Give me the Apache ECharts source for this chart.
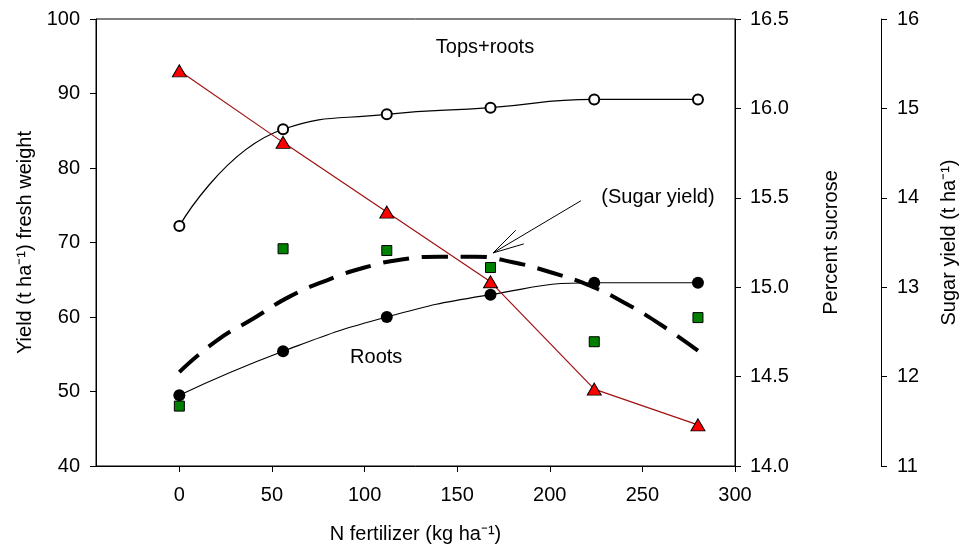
<!DOCTYPE html>
<html>
<head>
<meta charset="utf-8">
<script src="https://cdn.jsdelivr.net/npm/echarts@6/dist/echarts.min.js"></script>
<style>
  html, body { margin: 0; padding: 0; background: #fff; }
  #chart { width: 962px; height: 547px; }
</style>
</head>
<body>
<div id="chart"></div>
<script>
// N fertilizer rates (kg/ha)
const nRate = [0, 56, 112, 168, 224, 280];
// yield, t/ha fresh weight (left axis)
const topsRoots = [72.2, 85.2, 87.2, 88.1, 89.2, 89.2];
const roots = [49.5, 55.4, 60.0, 63.0, 64.6, 64.6];
// percent sucrose (first right axis)
const sucrose = [16.21, 15.81, 15.42, 15.03, 14.43, 14.23];
// sugar yield, t/ha (second right axis)
const sugarYield = [11.67, 13.43, 13.41, 13.22, 12.39, 12.66];
// fitted sugar yield curve
const fitN = [0, 20, 40, 60, 80, 100, 120, 140, 160, 180, 200, 220, 240, 260, 280];
const sugarFit = [12.05, 12.40, 12.65, 12.90, 13.08, 13.22, 13.31, 13.34, 13.34, 13.28, 13.17, 13.03, 12.83, 12.58, 12.29];
const xTicks = [0, 50, 100, 150, 200, 250, 300];

const FONT = "'Liberation Sans', Arial, sans-serif";
const pairs = (xs, ys) => xs.map((x, i) => [x, ys[i]]);

const axisBase = {
  axisLine: { show: true, onZero: false, lineStyle: { color: "#000", width: 1 } },
  axisTick: { show: true, length: 6, lineStyle: { color: "#000" } },
  splitLine: { show: false },
  nameLocation: "middle",
  nameRotate: 90,
  nameTextStyle: { color: "#000", fontSize: 20, fontFamily: FONT },
};

const option = {
  animation: false,
  backgroundColor: "#fff",
  grid: {
    left: 96,
    right: 227,
    top: 19,
    bottom: 81,
    outerBoundsMode: "none",
    show: true,
    borderColor: "#000",
    borderWidth: 1,
  },
  xAxis: {
    type: "value",
    min: -45,
    max: 300,
    axisLine: { show: true, onZero: false, lineStyle: { color: "#000" } },
    axisTick: { show: true, length: 6, customValues: xTicks, lineStyle: { color: "#000" } },
    axisLabel: { customValues: xTicks, color: "#000", fontSize: 20, fontFamily: FONT, margin: 19 },
    splitLine: { show: false },
    name: "N fertilizer (kg ha⁻¹)",
    nameLocation: "middle",
    nameGap: 58,
    nameTextStyle: { color: "#000", fontSize: 20, fontFamily: FONT },
  },
  yAxis: [
    Object.assign({}, axisBase, {
      type: "value",
      position: "left",
      min: 40,
      max: 100,
      interval: 10,
      name: "Yield (t ha⁻¹) fresh weight",
      nameGap: 61,
      axisLabel: { color: "#000", fontSize: 20, fontFamily: FONT, margin: 16 },
    }),
    Object.assign({}, axisBase, {
      type: "value",
      position: "right",
      min: 14,
      max: 16.5,
      interval: 0.5,
      name: "Percent sucrose",
      nameGap: 86,
      axisLabel: {
        color: "#000", fontSize: 20, fontFamily: FONT, margin: 15,
        formatter: (v) => v.toFixed(1),
      },
    }),
    Object.assign({}, axisBase, {
      type: "value",
      position: "right",
      offset: 146,
      min: 11,
      max: 16,
      interval: 1,
      name: "Sugar yield (t ha⁻¹)",
      nameGap: 58,
      axisLabel: { color: "#000", fontSize: 20, fontFamily: FONT, margin: 16 },
    }),
  ],
  series: [
    {
      name: "Sugar yield fit",
      type: "line",
      yAxisIndex: 2,
      data: pairs(fitN, sugarFit),
      smooth: true,
      showSymbol: false,
      lineStyle: { color: "#000", width: 4, type: [26, 13] },
    },
    {
      name: "Tops+roots",
      type: "line",
      yAxisIndex: 0,
      data: pairs(nRate, topsRoots),
      smooth: 0.5,
      symbol: "circle",
      symbolSize: 10,
      itemStyle: { color: "#fff", borderColor: "#000", borderWidth: 2 },
      lineStyle: { color: "#000", width: 1.2 },
    },
    {
      name: "Roots",
      type: "line",
      yAxisIndex: 0,
      data: pairs(nRate, roots),
      smooth: 0.5,
      symbol: "circle",
      symbolSize: 12,
      itemStyle: { color: "#000", borderColor: "#000", borderWidth: 0 },
      lineStyle: { color: "#000", width: 1.2 },
    },
    {
      name: "Percent sucrose",
      type: "line",
      yAxisIndex: 1,
      data: pairs(nRate, sucrose),
      symbol: "triangle",
      symbolSize: [14, 12],
      itemStyle: { color: "#ff0000", borderColor: "#000", borderWidth: 1 },
      lineStyle: { color: "#a01010", width: 1.2 },
    },
    {
      name: "Sugar yield",
      type: "scatter",
      yAxisIndex: 2,
      data: pairs(nRate, sugarYield),
      symbol: "rect",
      symbolSize: 10,
      itemStyle: { color: "#008000", borderColor: "#000", borderWidth: 1, opacity: 1 },
    },
  ],
};

const chart = echarts.init(document.getElementById("chart"));
chart.setOption(option);

// annotations placed in data space of the left axis
const px = (x, y) => chart.convertToPixel({ xAxisIndex: 0, yAxisIndex: 0 }, [x, y]);
const label = (text, pos) => ({
  type: "text",
  x: pos[0],
  y: pos[1],
  style: { text: text, fontSize: 20, fontFamily: FONT, fill: "#000", align: "center", verticalAlign: "middle" },
});

const tip = px(169.4, 68.6);
const tail = px(216.8, 75.6);
const ang = Math.atan2(tail[1] - tip[1], tail[0] - tip[0]);
const arm = (da) => [tip[0] + 32 * Math.cos(ang + da), tip[1] + 32 * Math.sin(ang + da)];

chart.setOption({
  graphic: [
    label("Tops+roots", px(165, 96.2)),
    label("Roots", px(106.3, 54.5)),
    label("(Sugar yield)", px(258.4, 76.0)),
    { type: "line", shape: { x1: tail[0], y1: tail[1], x2: tip[0], y2: tip[1] }, style: { stroke: "#000", lineWidth: 1 } },
    { type: "polyline", shape: { points: [arm(-0.25), tip, arm(0.25)] }, style: { stroke: "#000", lineWidth: 1, fill: null } },
  ],
});
</script>
</body>
</html>
